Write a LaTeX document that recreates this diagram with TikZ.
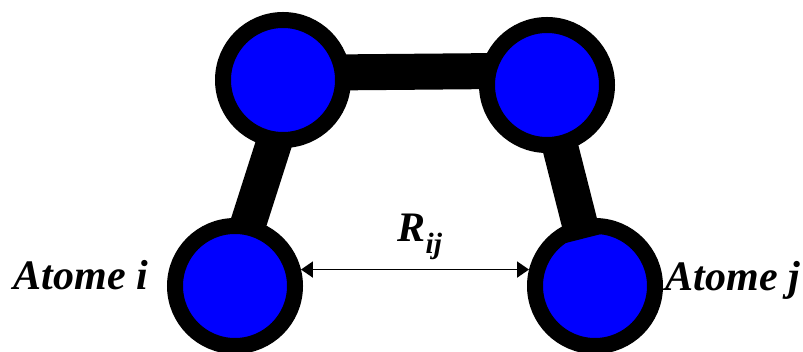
\documentclass[tikz,border=0pt]{standalone}
\usepackage{fontspec}
\setmainfont{Liberation Serif}
\usetikzlibrary{arrows.meta,positioning}
\tikzset{
  every picture/.style={x=1pt, y=-1pt, line width=0.5pt},
  atom/.style={circle, draw=black, fill=blue, line width=16pt, inner sep=0pt, minimum size=120pt},
  bond/.style={line width=36pt, color=black},
  dist/.style={{Triangle[length=12pt,width=16pt]}-{Triangle[length=12pt,width=16pt]}, line width=1.8pt},
  lbl/.style={font=\fontsize{42}{46}\selectfont\bfseries\itshape, inner sep=0pt, anchor=base},
}
\begin{document}
\begin{tikzpicture}
  \useasboundingbox (0,0) rectangle (803,352);
  % ends of the bonds
  \coordinate (b1) at (330,72.5);
  \coordinate (b2) at (500,71);
  \coordinate (b3) at (275,140);
  \coordinate (b4) at (243,240);
  \coordinate (b5) at (560,146);
  \coordinate (b6) at (583.5,238.5);
  \draw[bond] (b1) -- (b2);
  \draw[bond] (b3) -- (b4);
  \node[atom] (A2) at (283,80) {};
  \node[atom] (A3) at (547,85) {};
  \node[atom] (Ai) at (235,286) {};
  \node[atom] (Aj) at (595,286) {};
  \draw[bond] (b5) -- (b6);
  \draw[dist] (Ai.14) -- (Aj.166);
  \node[lbl] (Li) at (81,290) {Atome i};
  \node[lbl] (Lj) at (733,291) {Atome j};
  \node[lbl] (Rij) at (420,242) {R\textsubscript{ij}};
\end{tikzpicture}
\end{document}
